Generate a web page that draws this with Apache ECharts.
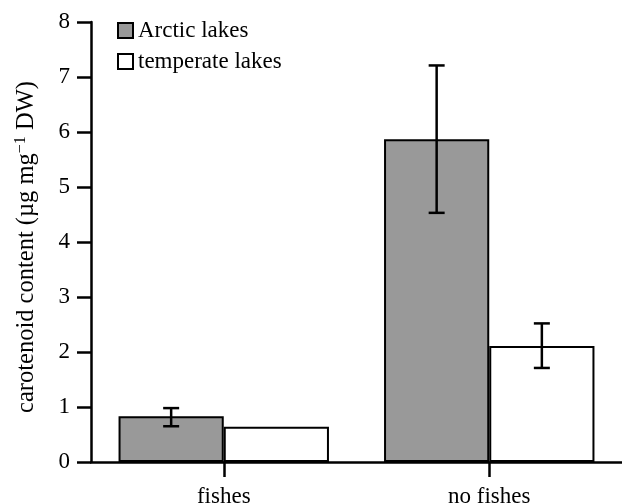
<!DOCTYPE html>
<html><head><meta charset="utf-8">
<script src="https://cdn.jsdelivr.net/npm/echarts@6/dist/echarts.min.js"></script>
<style>html,body{margin:0;padding:0;background:#fff}#c{width:622px;height:504px}</style>
</head><body><div id="c"></div>
<script>
var categories = ['fishes', 'no fishes'];
var arcticMean = [0.83, 5.87];
var arcticLow = [0.65, 4.53];
var arcticHigh = [0.98, 7.21];
var temperateMean = [0.64, 2.11];
var temperateLow = [null, 1.71];
var temperateHigh = [null, 2.52];
var yTicks = [0, 1, 2, 3, 4, 5, 6, 7, 8];

var FONT = '"Liberation Serif", "Times New Roman", serif';
var GAP = 0.2075;

function errSeries(name, low, high, sign) {
  var data = categories.map(function (c, i) { return [i, low[i], high[i]]; }).filter(function (d) { return d[1] != null; });
  return {
    type: 'custom', name: name + ' err', z: 10, silent: true,
    data: data,
    renderItem: function (params, api) {
      var i = api.value(0);
      var bw = api.size([1, 0])[0];
      var off = sign * bw * (1 - GAP) / 4;
      var lo = api.coord([i, api.value(1)]);
      var hi = api.coord([i, api.value(2)]);
      var x = lo[0] + off;
      var cap = 8;
      var st = { stroke: '#000', lineWidth: 2.5 };
      return { type: 'group', children: [
        { type: 'line', shape: { x1: x, y1: lo[1], x2: x, y2: hi[1] }, style: st },
        { type: 'line', shape: { x1: x - cap, y1: lo[1], x2: x + cap, y2: lo[1] }, style: st },
        { type: 'line', shape: { x1: x - cap, y1: hi[1], x2: x + cap, y2: hi[1] }, style: st }
      ]};
    },
    encode: { x: 0, y: [1, 2] }
  };
}

var chart = echarts.init(document.getElementById('c'));
chart.setOption({
  animation: false,
  textStyle: { fontFamily: FONT },
  grid: { left: 91, right: 0, top: 22, bottom: 42, containLabel: false, outerBoundsMode: 'none' },
  legend: {
    orient: 'vertical', left: 112, top: 14, itemWidth: 15, itemHeight: 15, itemGap: 8,
    icon: 'rect',
    data: ['Arctic lakes', 'temperate lakes'],
    textStyle: { fontFamily: FONT, fontSize: 23, color: '#000' }
  },
  xAxis: {
    type: 'category', data: categories,
    axisLine: { lineStyle: { color: '#000', width: 2.5 } },
    axisTick: { show: true, alignWithLabel: true, interval: 0, length: 15, lineStyle: { color: '#000', width: 2.5 } },
    axisLabel: { fontFamily: FONT, fontSize: 23, color: '#000', margin: 23 }
  },
  yAxis: {
    type: 'value', min: yTicks[0], max: yTicks[yTicks.length - 1], interval: 1,
    splitLine: { show: false },
    axisLine: { show: true, lineStyle: { color: '#000', width: 2.5 } },
    axisTick: { show: true, length: 14, lineStyle: { color: '#000', width: 2.5 } },
    axisLabel: { fontFamily: FONT, fontSize: 23, color: '#000', margin: 21 },
    name: '{a|carotenoid content (µg mg}{s|−1}{a| DW)}',
    nameLocation: 'middle', nameGap: 52, nameRotate: 90,
    nameTextStyle: {
      padding: [0, 10, 0, 0],
      rich: {
        a: { fontFamily: FONT, fontSize: 24.5, color: '#000', lineHeight: 26, verticalAlign: 'bottom' },
        s: { fontFamily: FONT, fontSize: 16, color: '#000', lineHeight: 26, verticalAlign: 'top' }
      }
    }
  },
  series: [
    { type: 'bar', name: 'Arctic lakes', data: arcticMean, barGap: '0%', barCategoryGap: (GAP * 100) + '%',
      itemStyle: { color: '#999999', borderColor: '#000', borderWidth: 2 } },
    { type: 'bar', name: 'temperate lakes', data: temperateMean, barGap: '0%', barCategoryGap: (GAP * 100) + '%',
      itemStyle: { color: '#ffffff', borderColor: '#000', borderWidth: 2 } },
    errSeries('Arctic lakes', arcticLow, arcticHigh, -1),
    errSeries('temperate lakes', temperateLow, temperateHigh, 1)
  ]
});
</script></body></html>
